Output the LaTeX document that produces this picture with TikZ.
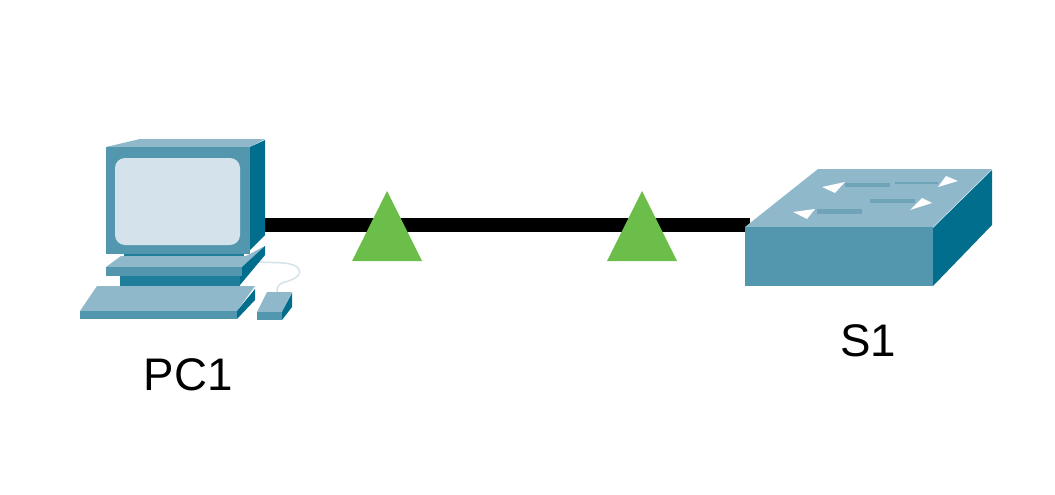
\documentclass[tikz,border=0pt]{standalone}
\usepackage{fontspec}
\setmainfont{Liberation Sans}
\usepackage{xcolor}
\definecolor{facecol}{HTML}{5397AF}
\definecolor{topcol}{HTML}{8FB8CA}
\definecolor{sidecol}{HTML}{006E8C}
\definecolor{neckcol}{HTML}{1F7F9B}
\definecolor{screencol}{HTML}{D4E3EB}
\definecolor{lightcol}{HTML}{6CBE4B}
\definecolor{slotcol}{HTML}{6FA3B8}
\tikzset{
    devlabel/.style={font=\fontsize{26}{30}\selectfont, text=black, inner sep=0pt},
    slot/.style={fill=slotcol},
    tip/.style={fill=white}
}

\begin{document}
\begin{tikzpicture}[x=0.02cm, y=-0.02cm]
        \useasboundingbox (0, 0) rectangle (1055, 494);

        % Link between devices
        \coordinate (pcport) at (265, 225);
        \coordinate (swport) at (750, 225);
        \draw[line width=0.28cm, black] (pcport) -- (swport);

        % Link lights
        \coordinate (l1) at (387, 191);
        \coordinate (l2) at (642, 191);
        \fill[lightcol] (l1) -- ++(35, 70) -- ++(-70, 0) -- cycle;
        \fill[lightcol] (l2) -- ++(35, 70) -- ++(-70, 0) -- cycle;

        % Left side (PC)
        % Mouse cable
        \draw[screencol, line width=0.03cm] (258, 262) .. controls (280, 263) and (290, 262) .. (297, 267) .. controls (304, 274) and (296, 279) .. (285, 282) .. controls (278, 284) and (277, 287) .. (277, 292);

        % Monitor
        \fill[topcol] (106, 147) -- (140, 139) -- (265, 139) -- (250, 147) -- cycle;
        \fill[sidecol] (250, 147) -- (265, 140) -- (265, 235) -- (250, 250) -- cycle;
        \fill[facecol] (106, 147) rectangle (250, 254);
        \fill[screencol, rounded corners=0.2cm] (115, 158) rectangle (240, 245);

        % Stand
        \fill[neckcol] (124, 254) rectangle (244, 260);
        \fill[topcol] (106, 267) -- (121, 256) -- (246, 256) -- (265, 246) -- (242, 267) -- cycle;
        \fill[sidecol] (242, 267) -- (265, 246) -- (265, 255) -- (240, 285) -- (240, 276) -- cycle;
        \fill[facecol] (106, 267) rectangle (242, 276);
        \fill[neckcol] (120, 276) rectangle (240, 286);

        % Keyboard
        \fill[topcol] (97, 286) -- (255, 286) -- (237, 311) -- (80, 311) -- cycle;
        \fill[sidecol] (237, 311) -- (255, 289) -- (255, 300) -- (237, 319) -- cycle;
        \fill[facecol] (80, 311) rectangle (237, 319);

        % Mouse
        \fill[topcol] (267, 292) -- (292, 292) -- (282, 312) -- (257, 312) -- cycle;
        \fill[sidecol] (282, 312) -- (292, 293) -- (292, 307) -- (282, 320) -- cycle;
        \fill[facecol] (257, 312) rectangle (282, 320);

        % Right side (Switch)
        \fill[topcol] (745, 227) -- (818, 169) -- (992, 169) -- (933, 227) -- cycle;
        \fill[sidecol] (933, 228) -- (992, 170) -- (992, 225) -- (933, 286) -- cycle;
        \fill[facecol] (745, 227) rectangle (933, 286);

        % Arrows on top of switch
        \fill[slot] (845, 183) rectangle (890, 187);
        \fill[tip] (822, 187) -- (845, 182) -- (835, 193) -- cycle;
        \fill[slot] (895, 182) rectangle (938, 184);
        \fill[tip] (938, 187) -- (958, 181) -- (946, 176) -- cycle;
        \fill[slot] (870, 199) rectangle (915, 203);
        \fill[tip] (910, 210) -- (932, 203) -- (922, 198) -- cycle;
        \fill[slot] (817, 209) rectangle (862, 214);
        \fill[tip] (793, 212) -- (815, 209) -- (807, 219) -- cycle;

        % Labels
        \node[devlabel] (pclabel) at (188, 375) {PC1};
        \node[devlabel] (swlabel) at (868, 341) {S1};
    \end{tikzpicture}
\end{document}
